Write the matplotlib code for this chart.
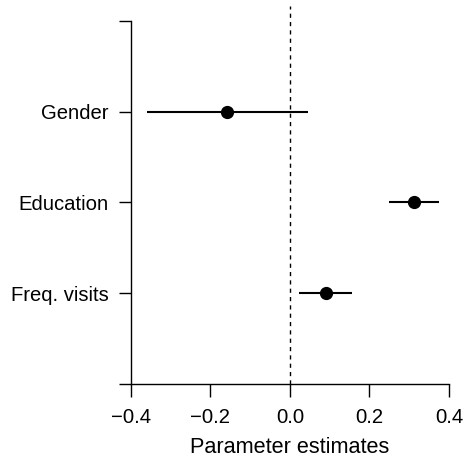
import matplotlib
matplotlib.use("Agg")
import matplotlib.pyplot as plt

labels = ["Freq. visits", "Education", "Gender"]
positions = [1, 2, 3]
estimates = [0.090, 0.313, -0.157]
lower = [0.022, 0.250, -0.360]
upper = [0.157, 0.376, 0.045]
xticks = [-0.4, -0.2, 0.0, 0.2, 0.4]
xticklabels = ["\u22120.4", "\u22120.2", "0.0", "0.2", "0.4"]

plt.rcParams['font.family'] = ['Liberation Sans', 'DejaVu Sans']

fig = plt.figure(figsize=(4.69, 4.61), dpi=100)
ax = fig.add_axes([130.7/469, 1-384/461, (449-130.7)/469, (384-6)/461])

ax.axvline(0, color='black', lw=1.0, ls=(0, (3, 3)), zorder=1)
for y, lo, hi, est in zip(positions, lower, upper, estimates):
    ax.plot([lo, hi], [y, y], color='black', lw=1.5, solid_capstyle='butt', zorder=2)
    ax.plot([est], [y], 'o', color='black', ms=8.5, zorder=3)

ax.set_xlim(-0.4, 0.4)
ax.set_ylim(0, 4.165)
for s in ['top', 'right']:
    ax.spines[s].set_visible(False)
ax.spines['left'].set_bounds(0, 4)
ax.spines['left'].set_linewidth(1.0)
ax.spines['bottom'].set_linewidth(1.0)
ax.spines['bottom'].set_bounds(-0.4, 0.4)

ax.set_yticks([0, 1, 2, 3, 4])
ax.set_yticklabels(["", labels[0], labels[1], labels[2], ""])
ax.set_xticks(xticks)
ax.set_xticklabels(xticklabels)
ax.tick_params(axis='both', length=9, width=1.0, labelsize=14.6, color='black')
ax.tick_params(axis='y', pad=7)
ax.tick_params(axis='x', pad=8)
ax.set_xlabel("Parameter estimates", fontsize=15.6, labelpad=7.5)

fig.savefig("out.png", dpi=100)
